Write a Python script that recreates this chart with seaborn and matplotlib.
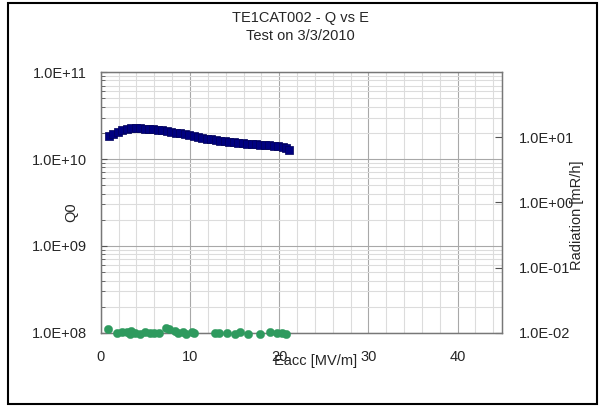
import numpy as np
import matplotlib
matplotlib.use("Agg")
import matplotlib.pyplot as plt
import matplotlib.ticker as mticker
from matplotlib.patches import Rectangle
import seaborn as sns
import pandas as pd

# Q0 vs Eacc (blue squares)
eacc_q = [0.9, 1.4, 1.9, 2.4, 2.9, 3.4, 3.9, 4.4, 4.9, 5.4, 5.9, 6.4, 6.9, 7.4,
          7.9, 8.4, 8.9, 9.4, 9.9, 10.4, 10.9, 11.4, 11.9, 12.4, 12.9, 13.4,
          13.9, 14.4, 14.9, 15.4, 15.9, 16.4, 16.9, 17.4, 17.9, 18.4, 18.9,
          19.4, 19.9, 20.4, 20.8, 21.1]
q0 = [1.85e10, 1.95e10, 2.05e10, 2.15e10, 2.22e10, 2.28e10, 2.28e10, 2.26e10,
      2.24e10, 2.22e10, 2.20e10, 2.17e10, 2.14e10, 2.10e10, 2.06e10, 2.01e10,
      1.97e10, 1.92e10, 1.88e10, 1.84e10, 1.80e10, 1.76e10, 1.72e10, 1.68e10,
      1.65e10, 1.62e10, 1.59e10, 1.57e10, 1.55e10, 1.53e10, 1.51e10, 1.49e10,
      1.48e10, 1.47e10, 1.45e10, 1.44e10, 1.43e10, 1.42e10, 1.40e10, 1.38e10,
      1.33e10, 1.28e10]

# Radiation vs Eacc (green dots)
eacc_r = [0.8, 1.8, 2.35, 2.9, 3.35, 3.25, 3.8, 4.4, 4.9, 5.5, 6.0, 6.5, 7.3,
          7.7, 8.3, 8.7, 9.2, 9.6, 10.2, 10.4, 12.8, 13.3, 14.2, 15.0, 15.6,
          16.5, 17.8, 19.0, 19.8, 20.3, 20.8]
radiation = [1.15e-2, 1.0e-2, 1.04e-2, 1.04e-2, 1.07e-2, 0.97e-2, 1.0e-2,
             0.97e-2, 1.04e-2, 1.0e-2, 1.0e-2, 1.0e-2, 1.19e-2, 1.15e-2,
             1.07e-2, 1.0e-2, 1.04e-2, 0.965e-2, 1.04e-2, 1.0e-2, 1.0e-2,
             1.0e-2, 1.0e-2, 0.965e-2, 1.04e-2, 0.965e-2, 0.965e-2, 1.04e-2,
             1.0e-2, 1.0e-2, 0.965e-2]

title_lines = ["TE1CAT002 - Q vs E", "Test on 3/3/2010"]

sns.set_style("white")
plt.rcParams['font.family'] = ['Liberation Sans', 'DejaVu Sans']


def sci_fmt(v, pos):
    # Excel style: 1.0E+10
    if v <= 0:
        return ""
    e = int(np.round(np.log10(v)))
    return f"1.0E{e:+03d}"


fig = plt.figure(figsize=(6, 4.07), dpi=100)
ax = fig.add_axes([0.168, 0.182, 0.669, 0.641])

df_q = pd.DataFrame({"Eacc": eacc_q, "Q0": q0})
df_r = pd.DataFrame({"Eacc": eacc_r, "Rad": radiation})

# grid first
ax.set_xlim(0, 45)
ax.set_yscale("log")
ax.set_ylim(1e8, 1e11)
ax.xaxis.set_major_locator(mticker.MultipleLocator(10))
ax.xaxis.set_minor_locator(mticker.MultipleLocator(2))
ax.yaxis.set_major_locator(mticker.LogLocator(base=10))
ax.yaxis.set_minor_locator(mticker.LogLocator(base=10, subs=np.arange(2, 10)))
ax.yaxis.set_minor_formatter(mticker.NullFormatter())
ax.yaxis.set_major_formatter(mticker.FuncFormatter(sci_fmt))
ax.grid(which="major", color="#a8a8a8", linewidth=0.8)
ax.grid(which="minor", color="#dcdcdc", linewidth=0.8)
ax.set_axisbelow(True)

sns.scatterplot(data=df_q, x="Eacc", y="Q0", ax=ax, marker="s", s=36,
                color="#000080", edgecolor="#00005a", linewidth=0.5,
                zorder=3, legend=False)

ax.tick_params(axis="y", which="major", direction="in", length=4,
               labelsize=10.5, pad=10, color="#555555")
ax.tick_params(axis="y", which="minor", direction="in", length=3,
               color="#555555")
ax.tick_params(axis="x", which="both", length=0, labelsize=10.5, pad=12)
for s in ax.spines.values():
    s.set_color("#777777")
    s.set_linewidth(1.0)

ax.set_xlabel("Eacc [MV/m]", fontsize=10.5)
ax.xaxis.set_label_coords(0.536, -0.082)
ax.set_ylabel("Q0", fontsize=10.5)
ax.yaxis.set_label_coords(-0.057, 0.464)

# radiation on the right axis
ax2 = ax.twinx()
ax2.set_yscale("log")
ax2.set_ylim(1e-2, 1e2)
sns.scatterplot(data=df_r, x="Eacc", y="Rad", ax=ax2, marker="o", s=36,
                color="#2e9a5e", edgecolor="#2e9a5e", linewidth=0.3,
                zorder=3, legend=False, clip_on=False)
ax2.set_xlim(0, 45)
ax2.yaxis.set_major_locator(mticker.FixedLocator([1e-2, 1e-1, 1e0, 1e1]))
ax2.yaxis.set_minor_locator(mticker.NullLocator())
ax2.yaxis.set_major_formatter(mticker.FuncFormatter(sci_fmt))
ax2.tick_params(axis="y", direction="in", length=5, labelsize=10.5, pad=12,
                color="#555555")
ax2.grid(False)
for s in ax2.spines.values():
    s.set_color("#777777")
ax2.set_ylabel("Radiation [mR/h]", fontsize=10.5)
ax2.yaxis.set_label_coords(1.168, 0.452)

fig.text(0.5, 1 - 18 / 407, title_lines[0], ha="center", va="center",
         fontsize=10.5)
fig.text(0.5, 1 - 36 / 407, title_lines[1], ha="center", va="center",
         fontsize=10.5)

# outer chart frame
fig.patches.append(Rectangle((8 / 600, 3 / 407), 589 / 600, 401 / 407,
                             transform=fig.transFigure, fill=False,
                             edgecolor="black", linewidth=1.5))

fig.savefig("out.png", dpi=100)
